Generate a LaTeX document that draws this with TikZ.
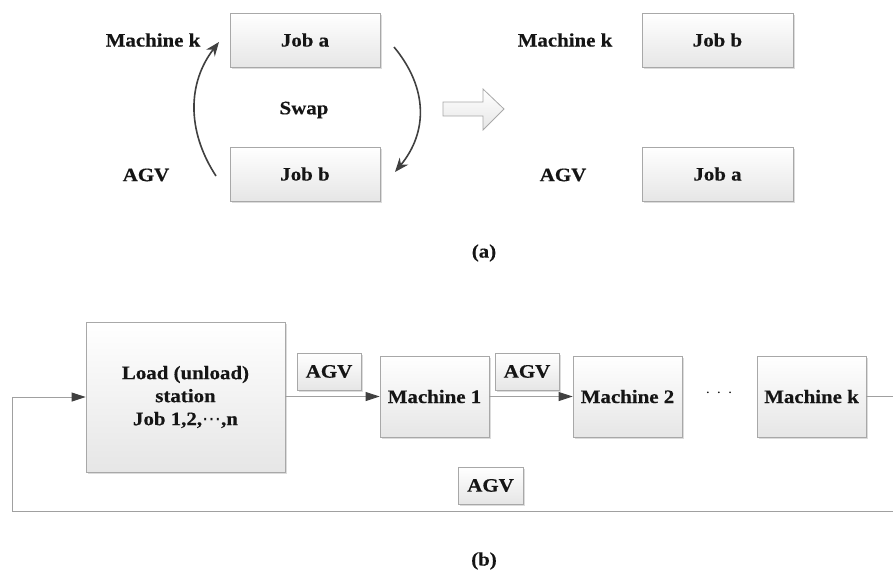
\documentclass[tikz,border=0pt]{standalone}
\usepackage{fontspec}
\setmainfont{Liberation Serif}[FakeStretch=1.1, BoldFeatures={FakeBold=0.4}]
\newfontfamily\symfam{DejaVu Sans}
\usetikzlibrary{arrows.meta,shadows}

\definecolor{boxline}{HTML}{A8A8A8}
\definecolor{boxbot}{HTML}{E6E6E6}
\definecolor{wire}{HTML}{A0A0A0}
\definecolor{tipdark}{HTML}{404040}
\definecolor{ink}{HTML}{151515}

\tikzset{
  lbl/.style={text=ink, inner sep=0pt, font=\bfseries\fontsize{19}{23}\selectfont},
  box/.style={lbl, draw=boxline, line width=0.8pt, top color=white, bottom color=boxbot,
    drop shadow={shadow xshift=1.6pt, shadow yshift=-1.6pt, fill=black!30, opacity=0.45},
    align=center},
  swaparc/.style={draw=tipdark, line width=1.6pt, -{Stealth[length=14pt,width=11pt]}},
  conn/.style={draw=wire, line width=0.9pt},
  flow/.style={conn, -{Triangle[length=14pt,width=9pt,color=tipdark]}},
  captext/.style={lbl}
}

\begin{document}
\begin{tikzpicture}[x=1pt,y=-1pt]
\path[use as bounding box] (0,0) rectangle (893,571);

% ---------- (a) swapping two jobs ----------
\node[box, minimum width=150pt, minimum height=54pt] (ja) at (305,40) {Job a};
\node[box, minimum width=150pt, minimum height=54pt] (jb) at (305,174) {Job b};
\node[lbl] (mk1) at (153,40) {Machine k};
\node[lbl] (agv1) at (146,175) {AGV};
\node[lbl] (swap) at (304,110) {Swap};

\coordinate (lS) at (216,176);
\coordinate (lE) at (219,42);
\coordinate (rS) at (394,47);
\coordinate (rE) at (395,172);
\draw[swaparc] (lS) .. controls (186,130) and (188,82) .. (lE);
\draw[swaparc] (rS) .. controls (428,88) and (428,132) .. (rE);

% block arrow
\draw[draw=boxline, line width=0.8pt, top color=white, bottom color=boxbot]
  (443,102) -- (483,102) -- (483,89) -- (504,109) -- (483,130) -- (483,116) -- (443,116) -- cycle;

\node[box, minimum width=151pt, minimum height=54pt] (jb2) at (717.5,40) {Job b};
\node[box, minimum width=151pt, minimum height=54pt] (ja2) at (717.5,174) {Job a};
\node[lbl] (mk2) at (565,40) {Machine k};
\node[lbl] (agv2) at (563,175) {AGV};

\node[captext] (capa) at (484,253) {(a)};

% ---------- (b) production line ----------
\node[box, minimum width=199pt, minimum height=150pt] (load) at (185.5,397)
  {Load (unload)\\station\\Job 1,2,{\symfam\mdseries ⋯},n};
\node[box, minimum width=109pt, minimum height=81pt] (m1) at (434.5,396.5) {Machine 1};
\node[box, minimum width=109pt, minimum height=81pt] (m2) at (627.5,396.5) {Machine 2};
\node[box, minimum width=109pt, minimum height=81pt] (mk) at (811.5,396.5) {Machine k};
\node[text=ink, inner sep=0pt, font=\fontsize{14}{16}\selectfont] (dots) at (719,395)
  {·\hspace{6pt}·\hspace{6pt}·};

\node[box, minimum width=64pt, minimum height=37pt] (v1) at (329,371.5) {AGV};
\node[box, minimum width=64pt, minimum height=37pt] (v2) at (527,371.5) {AGV};
\node[box, minimum width=65pt, minimum height=37pt] (v3) at (490.5,485.5) {AGV};

\coordinate (outR) at (893,396.5);
\coordinate (fbR) at (893,511);
\coordinate (fbL) at (12,511);

\draw[flow] (load.east |- m1.west) -- (m1.west);
\draw[flow] (m1.east) -- (m2.west);
\draw[conn] (mk.east) -- (outR);
\draw[flow] (fbR) -- (fbL) |- (load.west);

\node[captext] (capb) at (484,561) {(b)};
\end{tikzpicture}
\end{document}
